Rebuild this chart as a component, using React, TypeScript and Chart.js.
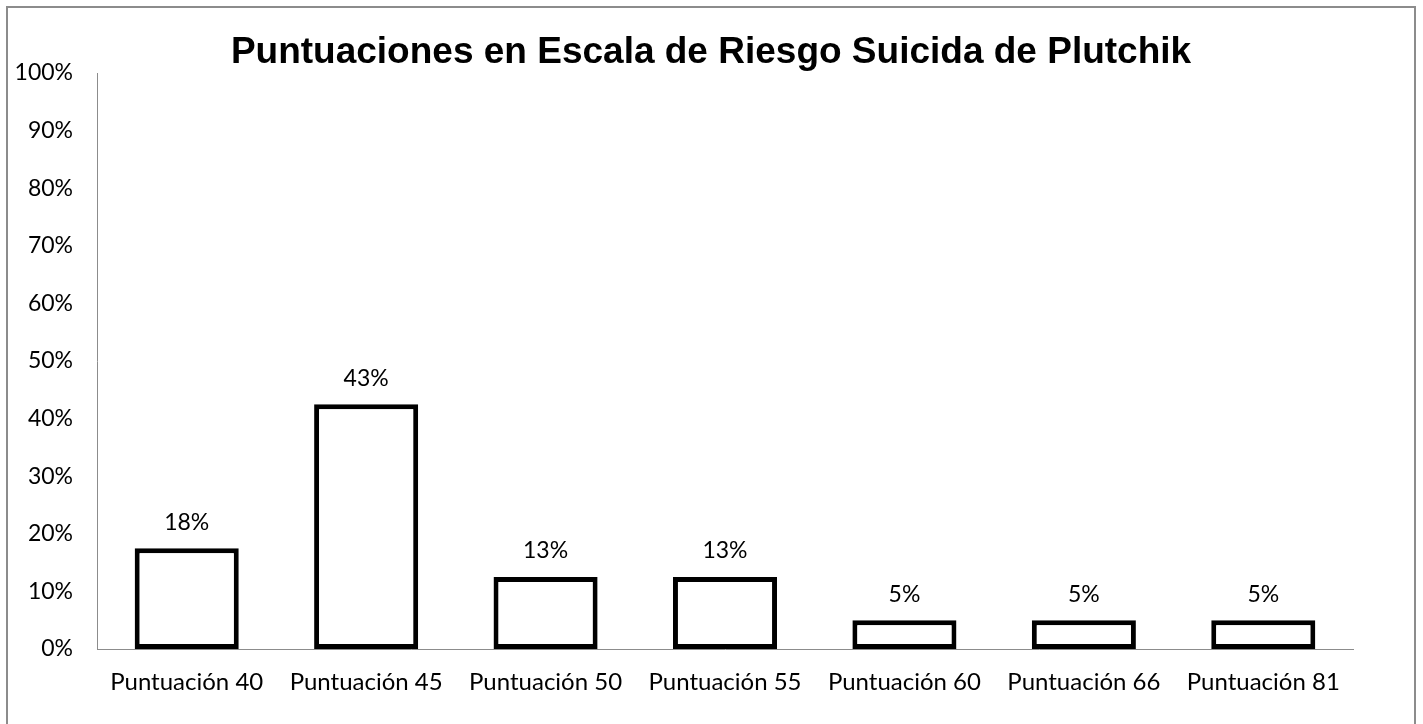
import React, { useEffect, useRef } from "react";
import { Chart, registerables } from "chart.js";

Chart.register(...registerables);

const categories = [
  "Puntuación 40",
  "Puntuación 45",
  "Puntuación 50",
  "Puntuación 55",
  "Puntuación 60",
  "Puntuación 66",
  "Puntuación 81",
];
const values = [17.5, 42.5, 12.5, 12.5, 5, 5, 5];
const valueLabels = ["18%", "43%", "13%", "13%", "5%", "5%", "5%"];
const titleText = "Puntuaciones en Escala de Riesgo Suicida de Plutchik";

const labelFont = "Lato, 'Open Sans', sans-serif";

const dataLabelPlugin = {
  id: "dataLabels",
  afterDatasetsDraw(chart: any) {
    const ctx = chart.ctx;
    const meta = chart.getDatasetMeta(0);
    ctx.save();
    ctx.font = `23px ${labelFont}`;
    ctx.fillStyle = "#000";
    ctx.textAlign = "center";
    ctx.textBaseline = "middle";
    meta.data.forEach((bar: any, i: number) => {
      ctx.fillText(valueLabels[i], bar.x, bar.y - 26);
    });
    ctx.restore();
  },
};

const titlePlugin = {
  id: "centeredTitle",
  afterDraw(chart: any) {
    const ctx = chart.ctx;
    ctx.save();
    ctx.font = "bold 37px 'Liberation Sans', Arial, sans-serif";
    ctx.fillStyle = "#000";
    ctx.textAlign = "center";
    ctx.textBaseline = "alphabetic";
    ctx.fillText(titleText, chart.width / 2, 55);
    ctx.restore();
  },
};

export default function App() {
  const ref = useRef<HTMLCanvasElement | null>(null);

  useEffect(() => {
    if (!ref.current) return;
    const chart = new Chart(ref.current, {
      type: "bar",
      data: {
        labels: categories,
        datasets: [
          {
            data: values,
            backgroundColor: "#ffffff",
            borderColor: "#000000",
            borderWidth: 5,
            borderSkipped: false,
            categoryPercentage: 0.58,
            barPercentage: 1,
          },
        ],
      },
      options: {
        animation: false,
        responsive: false,
        layout: { padding: { left: 0, right: 61, top: 65, bottom: 0 } },
        plugins: {
          legend: { display: false },
          tooltip: { enabled: false },
          title: { display: false },
        },
        scales: {
          x: {
            grid: { display: false, drawTicks: false },
            border: { display: true, color: "#8c8c8c", width: 1 },
            ticks: {
              color: "#000",
              font: { family: labelFont, size: 24 },
              padding: 19,
              maxRotation: 0,
              autoSkip: false,
            },
            afterFit(scale: any) {
              scale.height = 75;
            },
          },
          y: {
            min: 0,
            max: 100,
            grid: { display: false, drawTicks: false },
            border: { display: true, color: "#8c8c8c", width: 1 },
            ticks: {
              stepSize: 10,
              color: "#000",
              font: { family: labelFont, size: 23 },
              padding: 24,
              callback: (v: any) => `${v}%`,
            },
            afterFit(scale: any) {
              scale.width = 89;
            },
          },
        },
      },
      plugins: [dataLabelPlugin, titlePlugin],
    });
    return () => chart.destroy();
  }, []);

  return (
    <div
      style={{
        position: "absolute",
        left: 6,
        top: 6,
        width: 1406,
        height: 730,
        border: "2px solid #8c8c8c",
        background: "#fff",
      }}
    >
      <canvas ref={ref} width={1406} height={716} style={{ display: "block" }} />
    </div>
  );
}
